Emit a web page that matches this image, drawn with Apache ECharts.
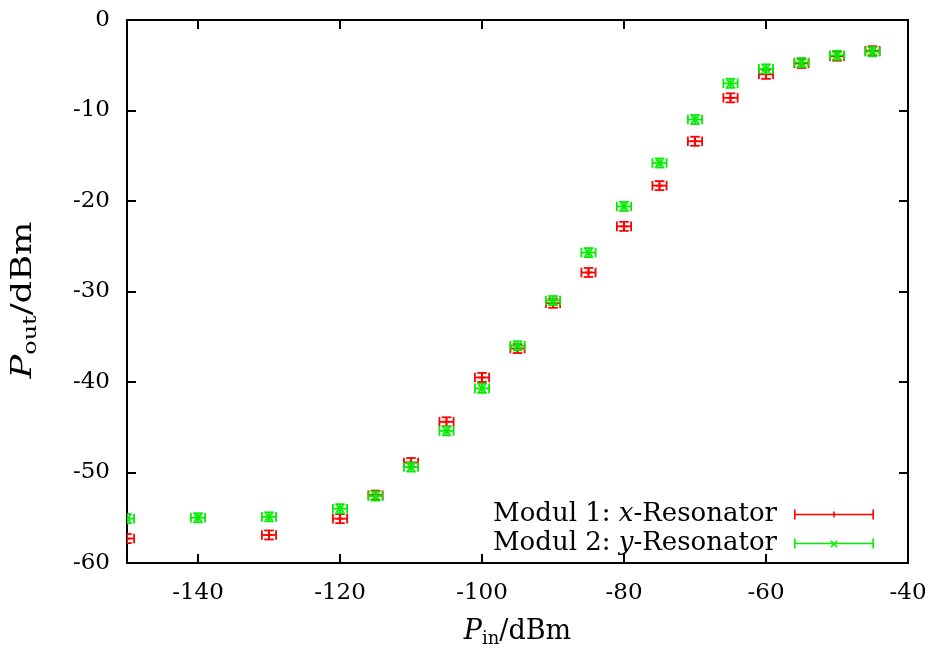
<!DOCTYPE html>
<html>
<head>
<meta charset="utf-8">
<script src="https://cdn.jsdelivr.net/npm/echarts@6/dist/echarts.min.js"></script>
<style>
html,body{margin:0;padding:0;background:#fff;}
#chart{width:930px;height:655px;}
</style>
</head>
<body>
<div id="chart"></div>
<script>
// ---- data ----
const xTicks = [-140, -120, -100, -80, -60, -40];
const yTicks = [0, -10, -20, -30, -40, -50, -60];

const seriesNames = ['Modul 1: x-Resonator', 'Modul 2: y-Resonator'];

const pinModul1 = [-150, -130, -120, -115, -110, -105, -100, -95, -90, -85, -80, -75, -70, -65, -60, -55, -50, -45];
const poutModul1 = [-57.3, -56.9, -55.1, -52.5, -48.9, -44.4, -39.5, -36.3, -31.3, -27.9, -22.8, -18.3, -13.4, -8.6, -6.0, -4.8, -4.0, -3.4];

const pinModul2 = [-150, -140, -130, -120, -115, -110, -105, -100, -95, -90, -85, -80, -75, -70, -65, -60, -55, -50, -45];
const poutModul2 = [-55.1, -55.0, -54.9, -54.0, -52.6, -49.4, -45.4, -40.7, -36.0, -31.0, -25.7, -20.6, -15.8, -11.0, -7.0, -5.4, -4.7, -3.9, -3.5];

const pinErr = 1.0;   // dBm
const poutErr = 0.5;  // dB

// ---- helpers ----
const FONT = 'DejaVu Serif';
const RED = '#ff0000';
const GREEN = '#00ee00';

function buildData(xs, ys) {
  return xs.map((x, i) => [x, ys[i], pinErr, poutErr]);
}

function makeRender(color, marker) {
  return function (params, api) {
    const x = api.value(0), y = api.value(1), xe = api.value(2), ye = api.value(3);
    const c = api.coord([x, y]);
    const l = api.coord([x - xe, y]);
    const r = api.coord([x + xe, y]);
    const t = api.coord([x, y + ye]);
    const b = api.coord([x, y - ye]);
    const cap = 4.8;
    const st = { stroke: color, lineWidth: 1.8, fill: null };
    const lines = [
      [l[0], c[1], r[0], c[1]],
      [l[0], c[1] - cap, l[0], c[1] + cap],
      [r[0], c[1] - cap, r[0], c[1] + cap],
      [c[0], t[1], c[0], b[1]],
      [c[0] - cap, t[1], c[0] + cap, t[1]],
      [c[0] - cap, b[1], c[0] + cap, b[1]]
    ];
    const m = 3.5;
    if (marker === 'plus') {
      lines.push([c[0] - m, c[1], c[0] + m, c[1]]);
      lines.push([c[0], c[1] - m, c[0], c[1] + m]);
    } else {
      lines.push([c[0] - m, c[1] - m, c[0] + m, c[1] + m]);
      lines.push([c[0] - m, c[1] + m, c[0] + m, c[1] - m]);
    }
    return {
      type: 'group',
      children: lines.map(p => ({
        type: 'line',
        shape: { x1: p[0], y1: p[1], x2: p[2], y2: p[3] },
        style: st
      }))
    };
  };
}

const iconRed = 'path://M0,4.2h80v1.6h-80z M0,0h1.6v10h-1.6z M78.4,0h1.6v10h-1.6z M39.2,2h1.6v6h-1.6z';
const iconGreen = 'path://M0,4.2h80v1.6h-80z M0,0h1.6v10h-1.6z M78.4,0h1.6v10h-1.6z ' +
  'M36.2,2.8 L37.3,1.7 L43.8,8.2 L42.7,9.3 Z M42.7,1.7 L43.8,2.8 L37.3,9.3 L36.2,8.2 Z';

const LF = 26;
const richBase = {
  n: { fontFamily: FONT, fontSize: LF, color: '#000', lineHeight: 29 },
  i: { fontFamily: FONT, fontSize: LF, fontStyle: 'italic', color: '#000', lineHeight: 29 },
  r: { fontFamily: FONT, fontSize: LF, color: '#000', lineHeight: 29, padding: [0, 12, 0, 0] }
};

function nameRich(main, sub, drop) {
  return {
    i: { fontFamily: FONT, fontSize: main, fontStyle: 'italic', color: '#000', lineHeight: main + 1, padding: [0, 0, drop, 0] },
    s: { fontFamily: FONT, fontSize: sub, color: '#000', lineHeight: sub, verticalAlign: 'bottom' },
    n: { fontFamily: FONT, fontSize: main, color: '#000', lineHeight: main + 1, padding: [0, 0, drop, 0] }
  };
}

const axisLineStyle = { color: '#000', width: 2 };
const tickStyle = { color: '#000', width: 2 };

const chart = echarts.init(document.getElementById('chart'), null, { renderer: 'canvas' });
chart.setOption({
  backgroundColor: '#fff',
  animation: false,
  grid: { left: 127, right: 22, top: 20, bottom: 91, containLabel: false },
  legend: {
    orient: 'vertical',
    right: 56,
    top: 500,
    padding: 0,
    align: 'right',
    itemWidth: 80,
    itemHeight: 10,
    itemGap: 0,
    selectedMode: false,
    data: [
      { name: seriesNames[0], icon: iconRed, itemStyle: { color: RED } },
      { name: seriesNames[1], icon: iconGreen, itemStyle: { color: GREEN } }
    ],
    formatter: function (name) {
      if (name === seriesNames[0]) return '{n|Modul 1: }{i|x}{r|-Resonator}';
      return '{n|Modul 2: }{i|y}{r|-Resonator}';
    },
    textStyle: { fontFamily: FONT, fontSize: LF, color: '#000', lineHeight: 29, rich: richBase }
  },
  graphic: [
    {
      type: 'text',
      x: 26, y: 300,
      rotation: Math.PI / 2,
      scaleX: 1.26,
      style: {
        text: '{i|P}{s|out}{n|/dBm}',
        rich: nameRich(28, 19, 5),
        align: 'center',
        verticalAlign: 'middle'
      }
    }
  ],
  xAxis: [
    {
      type: 'value', position: 'bottom', min: -150, max: -40,
      axisLine: { show: true, onZero: false, lineStyle: axisLineStyle },
      axisTick: { show: true, inside: true, length: 9, lineStyle: tickStyle, customValues: xTicks },
      axisLabel: { show: true, customValues: xTicks, margin: 19, fontFamily: FONT, fontSize: 23, color: '#000' },
      splitLine: { show: false },
      name: '{i|P}{s|in}{n|/dBm}',
      nameLocation: 'middle',
      nameGap: 57,
      nameTextStyle: { rich: nameRich(27, 18, 5) }
    },
    {
      type: 'value', position: 'top', min: -150, max: -40,
      axisLine: { show: true, onZero: false, lineStyle: axisLineStyle },
      axisTick: { show: true, inside: true, length: 9, lineStyle: tickStyle, customValues: xTicks },
      axisLabel: { show: false, customValues: xTicks },
      splitLine: { show: false }
    }
  ],
  yAxis: [
    {
      type: 'value', position: 'left', min: -60, max: 0, interval: 10,
      axisLine: { show: true, onZero: false, lineStyle: axisLineStyle },
      axisTick: { show: true, inside: true, length: 9, lineStyle: tickStyle },
      axisLabel: { show: true, margin: 17, fontFamily: FONT, fontSize: 23, color: '#000' },
      splitLine: { show: false }
    },
    {
      type: 'value', position: 'right', min: -60, max: 0, interval: 10,
      axisLine: { show: true, onZero: false, lineStyle: axisLineStyle },
      axisTick: { show: true, inside: true, length: 9, lineStyle: tickStyle },
      axisLabel: { show: false },
      splitLine: { show: false }
    }
  ],
  series: [
    {
      name: seriesNames[0], type: 'custom', clip: true,
      xAxisIndex: 0, yAxisIndex: 0,
      itemStyle: { color: RED },
      encode: { x: 0, y: 1 },
      renderItem: makeRender(RED, 'plus'),
      data: buildData(pinModul1, poutModul1),
      z: 2
    },
    {
      name: seriesNames[1], type: 'custom', clip: true,
      xAxisIndex: 0, yAxisIndex: 0,
      itemStyle: { color: GREEN },
      encode: { x: 0, y: 1 },
      renderItem: makeRender(GREEN, 'cross'),
      data: buildData(pinModul2, poutModul2),
      z: 3
    }
  ]
});
</script>
</body>
</html>
